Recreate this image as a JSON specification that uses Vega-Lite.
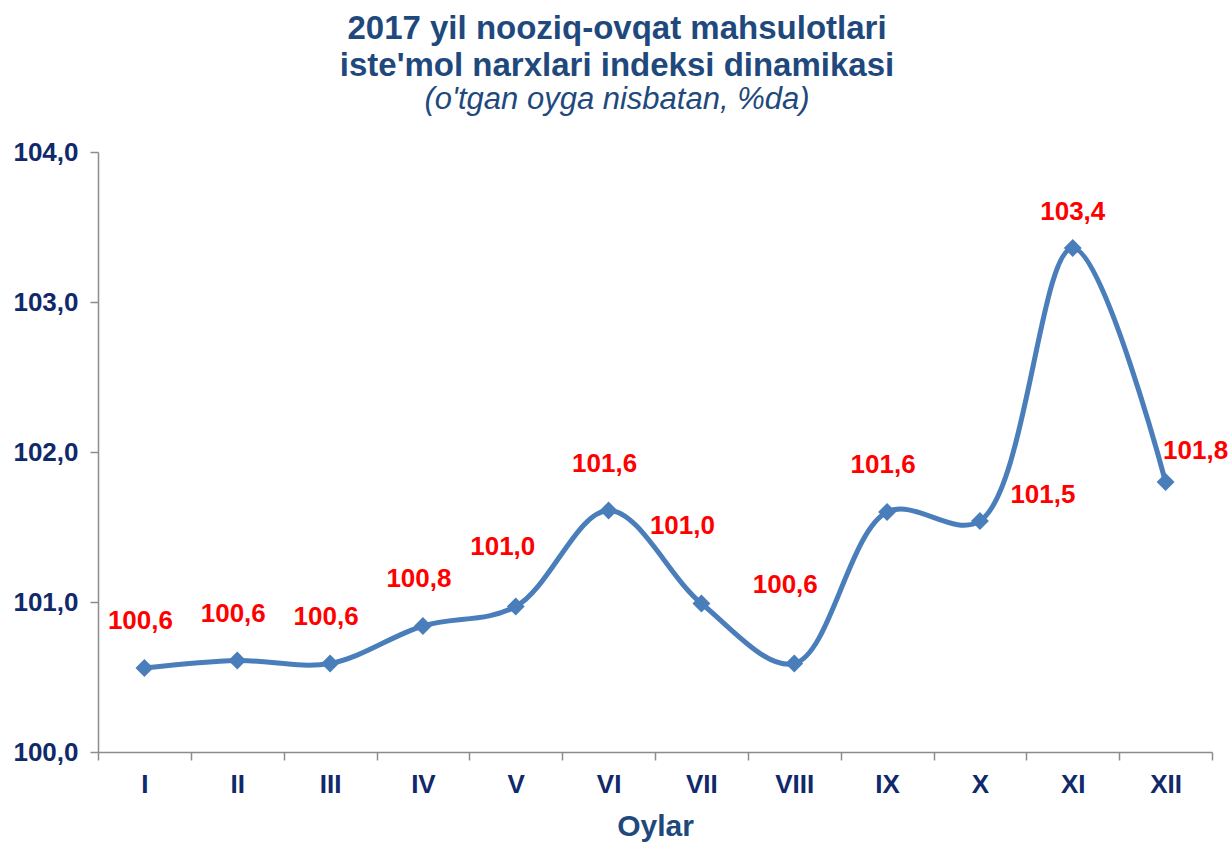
{
  "$schema": "https://vega.github.io/schema/vega-lite/v6.json",
  "autosize": "none",
  "width": 1114,
  "height": 600,
  "padding": {"left": 98, "top": 152, "right": 20, "bottom": 92},
  "background": "white",
  "title": {
    "text": ["2017 yil nooziq-ovqat mahsulotlari", "iste'mol narxlari indeksi dinamikasi"],
    "subtitle": "(o'tgan oyga nisbatan, %da)",
    "anchor": "middle",
    "frame": "group",
    "dx": -38,
    "offset": 24,
    "font": "Liberation Sans",
    "fontSize": 33,
    "fontWeight": "bold",
    "color": "#1F497D",
    "lineHeight": 37,
    "subtitleFont": "Liberation Sans",
    "subtitleFontSize": 31,
    "subtitleFontStyle": "italic",
    "subtitleColor": "#1F497D",
    "subtitlePadding": 2
  },
  "data": {
    "values": [
      {"month": "I", "value": 100.56},
      {"month": "II", "value": 100.61},
      {"month": "III", "value": 100.59},
      {"month": "IV", "value": 100.84},
      {"month": "V", "value": 100.97},
      {"month": "VI", "value": 101.61},
      {"month": "VII", "value": 100.99},
      {"month": "VIII", "value": 100.59},
      {"month": "IX", "value": 101.6},
      {"month": "X", "value": 101.54},
      {"month": "XI", "value": 103.36},
      {"month": "XII", "value": 101.8}
    ]
  },
  "encoding": {
    "x": {
      "field": "month",
      "type": "ordinal",
      "sort": null,
      "scale": {"paddingInner": 0, "paddingOuter": 0},
      "axis": {
        "title": "Oylar",
        "titleFont": "Liberation Sans",
        "titleFontSize": 30,
        "titleFontWeight": "bold",
        "titleColor": "#1F497D",
        "titlePadding": 14,
        "labelAngle": 0,
        "labelFont": "Liberation Sans",
        "labelFontSize": 26,
        "labelFontWeight": "bold",
        "labelColor": "#10296B",
        "labelPadding": 11,
        "tickBand": "extent",
        "tickSize": 8,
        "tickColor": "#8C8C8C",
        "tickWidth": 1.5,
        "domainColor": "#8C8C8C",
        "domainWidth": 1.5,
        "grid": false
      }
    },
    "y": {
      "field": "value",
      "type": "quantitative",
      "scale": {"domain": [100, 104], "nice": false, "zero": false},
      "axis": {
        "title": null,
        "values": [100, 101, 102, 103, 104],
        "format": ".1f",
        "labelFont": "Liberation Sans",
        "labelFontSize": 26,
        "labelFontWeight": "bold",
        "labelColor": "#10296B",
        "labelPadding": 12,
        "tickSize": 8,
        "tickColor": "#8C8C8C",
        "tickWidth": 1.5,
        "domainColor": "#8C8C8C",
        "domainWidth": 1.5,
        "grid": false
      }
    }
  },
  "layer": [
    {
      "mark": {"type": "line", "interpolate": "catmull-rom", "color": "#4A7EBB", "strokeWidth": 5}
    },
    {
      "mark": {"type": "point", "shape": "diamond", "filled": true, "size": 320, "color": "#4A7EBB", "opacity": 1}
    },
    {
      "transform": [{"filter": "indexof(['I','II','III','IV','VI','IX'], datum.month) >= 0"}],
      "mark": {"type": "text", "dx": -4, "dy": -47, "font": "Liberation Sans", "fontSize": 26, "fontWeight": "bold", "color": "#FF0000", "baseline": "middle"},
      "encoding": {"text": {"field": "value", "type": "quantitative", "format": ".1f"}}
    },
    {
      "transform": [{"filter": "datum.month === 'V'"}],
      "mark": {"type": "text", "dx": -13, "dy": -60, "font": "Liberation Sans", "fontSize": 26, "fontWeight": "bold", "color": "#FF0000", "baseline": "middle"},
      "encoding": {"text": {"field": "value", "type": "quantitative", "format": ".1f"}}
    },
    {
      "transform": [{"filter": "datum.month === 'VII'"}],
      "mark": {"type": "text", "dx": -19, "dy": -78, "font": "Liberation Sans", "fontSize": 26, "fontWeight": "bold", "color": "#FF0000", "baseline": "middle"},
      "encoding": {"text": {"field": "value", "type": "quantitative", "format": ".1f"}}
    },
    {
      "transform": [{"filter": "datum.month === 'VIII'"}],
      "mark": {"type": "text", "dx": -9, "dy": -79, "font": "Liberation Sans", "fontSize": 26, "fontWeight": "bold", "color": "#FF0000", "baseline": "middle"},
      "encoding": {"text": {"field": "value", "type": "quantitative", "format": ".1f"}}
    },
    {
      "transform": [{"filter": "datum.month === 'X'"}],
      "mark": {"type": "text", "dx": 63, "dy": -26, "font": "Liberation Sans", "fontSize": 26, "fontWeight": "bold", "color": "#FF0000", "baseline": "middle"},
      "encoding": {"text": {"field": "value", "type": "quantitative", "format": ".1f"}}
    },
    {
      "transform": [{"filter": "datum.month === 'XI'"}],
      "mark": {"type": "text", "dx": 0, "dy": -36, "font": "Liberation Sans", "fontSize": 26, "fontWeight": "bold", "color": "#FF0000", "baseline": "middle"},
      "encoding": {"text": {"field": "value", "type": "quantitative", "format": ".1f"}}
    },
    {
      "transform": [{"filter": "datum.month === 'XII'"}],
      "mark": {"type": "text", "dx": 30, "dy": -31, "font": "Liberation Sans", "fontSize": 26, "fontWeight": "bold", "color": "#FF0000", "baseline": "middle"},
      "encoding": {"text": {"field": "value", "type": "quantitative", "format": ".1f"}}
    }
  ],
  "config": {
    "view": {"stroke": null},
    "locale": {"number": {"decimal": ",", "thousands": " ", "grouping": [3], "currency": ["", ""]}}
  }
}
